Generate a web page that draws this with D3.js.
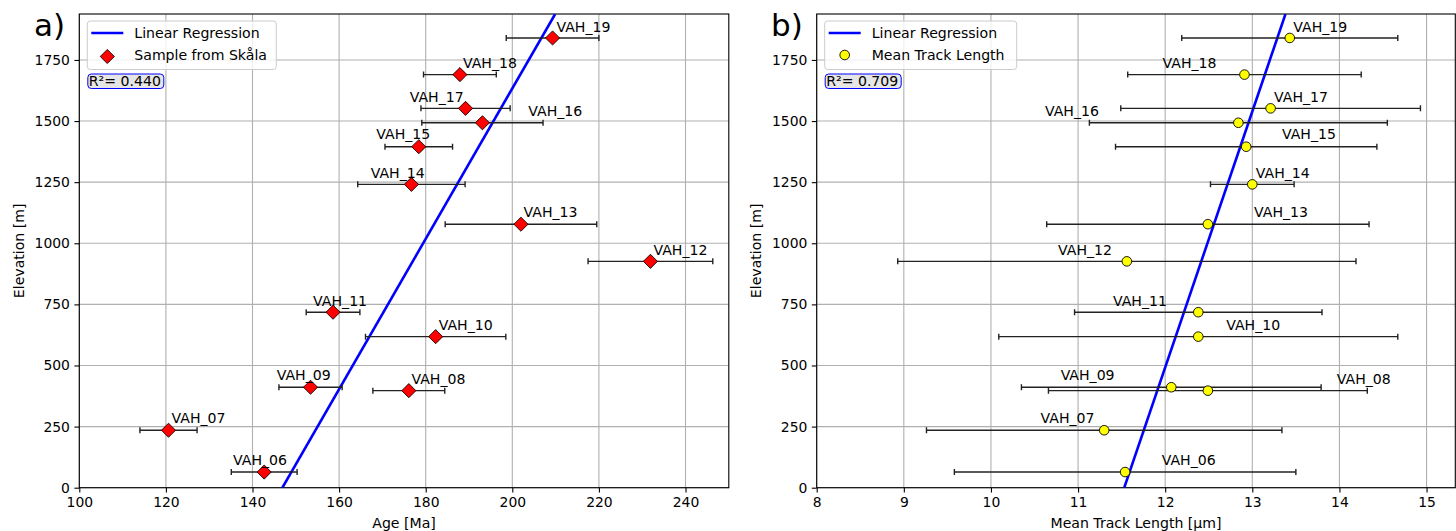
<!DOCTYPE html>
<html><head><meta charset="utf-8">
<script src="https://cdn.jsdelivr.net/npm/d3@7/dist/d3.min.js"></script>
<style>
body{margin:0;background:#fff;}
text{font-family:"DejaVu Sans",sans-serif;}
</style></head>
<body><svg id="chart" width="1456" height="531"></svg>
<script>
// ---- data ----
const samples   = ["VAH_06","VAH_07","VAH_08","VAH_09","VAH_10","VAH_11","VAH_12","VAH_13","VAH_14","VAH_15","VAH_16","VAH_17","VAH_18","VAH_19"];
const elevation = [64, 235, 397, 411, 618, 718, 926, 1078, 1241, 1395, 1493, 1552, 1690, 1840];
const age       = [142.7, 120.6, 176.1, 153.4, 182.3, 158.6, 231.9, 202.0, 176.7, 178.4, 193.1, 189.2, 187.9, 209.3];
const ageErr    = [7.6, 6.6, 8.3, 7.3, 16.2, 6.2, 14.4, 17.5, 12.4, 7.8, 14.0, 10.3, 8.4, 10.7];
const mtl       = [11.54, 11.30, 12.49, 12.07, 12.38, 12.38, 11.56, 12.49, 13.00, 12.93, 12.84, 13.21, 12.91, 13.43];
const mtlErr    = [1.96, 2.04, 1.83, 1.72, 2.29, 1.42, 2.63, 1.85, 0.48, 1.50, 1.71, 1.72, 1.34, 1.24];
// annotation anchors (data coordinates)
const labelAge  = [135.5, 121.3, 176.7, 145.6, 183.0, 154.0, 232.6, 202.6, 167.3, 168.6, 203.7, 176.3, 188.6, 210.2];
const labelMtl  = [11.96, 10.57, 13.97, 10.80, 12.70, 11.40, 10.77, 13.02, 13.04, 13.34, 10.62, 13.25, 11.97, 13.47];
const labelElev = [93, 263.5, 424, 441, 645, 745, 952, 1106, 1268, 1425, 1521, 1579, 1716, 1866];
// regression fits: x = intercept + slope * elevation
const fitAge = {intercept: 146.9, slope: 0.03251};
const fitMtl = {intercept: 11.53, slope: 0.000955};
const r2Age = "0.440", r2Mtl = "0.709";
const yTicks = [0, 250, 500, 750, 1000, 1250, 1500, 1750];
const ageTicks = [100, 120, 140, 160, 180, 200, 220, 240];
const mtlTicks = [8, 9, 10, 11, 12, 13, 14, 15];
const yDomain = [0, 1938];
const ageDomain = [100, 250];
const mtlDomain = [8, 15.33];

const svg = d3.select("#chart");
const FS = 13.9;
const FL = 14.1;

function panel(opts){
  const {left, right, top, bottom} = opts;
  const x = d3.scaleLinear().domain(opts.xDomain).range([left, right]);
  const y = d3.scaleLinear().domain(yDomain).range([bottom, top]);
  const g = svg.append("g");
  const clipId = "clip" + opts.id;
  svg.append("clipPath").attr("id", clipId).append("rect")
    .attr("x", left).attr("y", top).attr("width", right-left).attr("height", bottom-top);

  // grid
  g.append("g").selectAll("line").data(opts.xTicks).join("line")
    .attr("x1", d=>x(d)).attr("x2", d=>x(d)).attr("y1", top).attr("y2", bottom)
    .attr("stroke", "#b0b0b0").attr("stroke-width", 1.1);
  g.append("g").selectAll("line").data(yTicks).join("line")
    .attr("y1", d=>y(d)).attr("y2", d=>y(d)).attr("x1", left).attr("x2", right)
    .attr("stroke", "#b0b0b0").attr("stroke-width", 1.1);

  // axes
  const xa = g.append("g").attr("transform", `translate(0,${bottom})`)
    .call(d3.axisBottom(x).tickValues(opts.xTicks).tickSize(4.9).tickPadding(4.5).tickFormat(d3.format("d")));
  const ya = g.append("g").attr("transform", `translate(${left},0)`)
    .call(d3.axisLeft(y).tickValues(yTicks).tickSize(4.9).tickPadding(4.5).tickFormat(d3.format("d")));
  [xa, ya].forEach(a=>{
    a.select(".domain").remove();
    a.selectAll("text").attr("font-size", FS).attr("fill", "#000").attr("font-family", "DejaVu Sans");
    a.selectAll("line").attr("stroke", "#000").attr("stroke-width", 1.1);
  });
  // spines
  g.append("rect").attr("x", left).attr("y", top).attr("width", right-left).attr("height", bottom-top)
    .attr("fill", "none").attr("stroke", "#000").attr("stroke-width", 1.1);

  // axis labels
  g.append("text").attr("x", (left+right)/2).attr("y", 528).attr("text-anchor", "middle")
    .attr("font-size", FL).text(opts.xLabel);
  g.append("text").attr("transform", `translate(${opts.yLabelX},${(top+bottom)/2}) rotate(-90)`)
    .attr("text-anchor", "middle").attr("dy", "0.35em").attr("font-size", FL).text("Elevation [m]");

  const plot = g.append("g").attr("clip-path", `url(#${clipId})`);
  // regression line
  plot.append("line")
    .attr("x1", x(opts.fit.intercept + opts.fit.slope*yDomain[0])).attr("y1", y(yDomain[0]))
    .attr("x2", x(opts.fit.intercept + opts.fit.slope*yDomain[1])).attr("y2", y(yDomain[1]))
    .attr("stroke", "#0000ff").attr("stroke-width", 2.6);

  // error bars
  const idx = d3.range(samples.length);
  const eb = plot.append("g").attr("stroke", "#222").attr("stroke-width", 1.4);
  idx.forEach(i=>{
    const v = opts.vals[i], e = opts.errs[i], yy = y(elevation[i]);
    eb.append("line").attr("x1", x(v-e)).attr("x2", x(v+e)).attr("y1", yy).attr("y2", yy);
    [v-e, v+e].forEach(c=>eb.append("line").attr("x1", x(c)).attr("x2", x(c)).attr("y1", yy-3).attr("y2", yy+3));
  });
  // markers
  if(opts.marker === "diamond"){
    plot.append("g").selectAll("path").data(idx).join("path")
      .attr("d", d3.symbol(d3.symbolSquare, 100))
      .attr("transform", i=>`translate(${x(opts.vals[i])},${y(elevation[i])}) rotate(45)`)
      .attr("fill", "#ff0000").attr("stroke", "#000").attr("stroke-width", 0.8);
  } else {
    plot.append("g").selectAll("circle").data(idx).join("circle")
      .attr("cx", i=>x(opts.vals[i])).attr("cy", i=>y(elevation[i])).attr("r", 4.8)
      .attr("fill", "#ffff00").attr("stroke", "#000").attr("stroke-width", 0.9);
  }
  // labels
  g.append("g").selectAll("text").data(idx).join("text")
    .attr("x", i=>x(opts.labelX[i])).attr("y", i=>y(labelElev[i]))
    .attr("font-size", FL).attr("fill", "#000").text(i=>samples[i]);

  // legend
  const lg = g.append("g");
  lg.append("rect").attr("x", left+8).attr("y", 21).attr("width", opts.legendW).attr("height", 48.5)
    .attr("rx", 3).attr("fill", "#fff").attr("fill-opacity", 0.8).attr("stroke", "#cccccc").attr("stroke-width", 1);
  lg.append("line").attr("x1", left+12).attr("x2", left+44).attr("y1", 33).attr("y2", 33)
    .attr("stroke", "#0000ff").attr("stroke-width", 2.6);
  lg.append("text").attr("x", left+55).attr("y", 33).attr("dy", "0.35em").attr("font-size", FL).text("Linear Regression");
  if(opts.marker === "diamond"){
    lg.append("path").attr("d", d3.symbol(d3.symbolSquare, 100))
      .attr("transform", `translate(${left+28},56.5) rotate(45)`)
      .attr("fill", "#ff0000").attr("stroke", "#000").attr("stroke-width", 0.8);
  } else {
    lg.append("circle").attr("cx", left+28).attr("cy", 55).attr("r", 4.8)
      .attr("fill", "#ffff00").attr("stroke", "#000").attr("stroke-width", 0.9);
  }
  lg.append("text").attr("x", left+55).attr("y", 55.5).attr("dy", "0.35em").attr("font-size", FL).text(opts.legendLabel);

  // R² box
  const rb = g.append("g");
  rb.append("rect").attr("x", left+8.5).attr("y", 74).attr("width", 76).attr("height", 14.5)
    .attr("rx", 3.5).attr("fill", "#e6e6e6").attr("stroke", "#0000ff").attr("stroke-width", 1);
  rb.append("text").attr("x", left+9.5).attr("y", 81.3).attr("dy", "0.35em").attr("font-size", FL).text("R²= " + opts.r2);

  // panel letter
  svg.append("text").attr("x", opts.letterX).attr("y", 36).attr("font-family", "Liberation Sans, Arial, sans-serif")
    .attr("font-size", 31).attr("fill", "#000").text(opts.letter);
}

panel({id:"a", left:79.3, right:728.8, top:14, bottom:487.7, xDomain:ageDomain, xTicks:ageTicks,
  xLabel:"Age [Ma]", yLabelX:19, fit:fitAge, vals:age, errs:ageErr, labelX:labelAge, marker:"diamond",
  legendW:189, legendLabel:"Sample from Skåla", r2:r2Age, letter:"a)", letterX:34});
panel({id:"b", left:816.7, right:1455.3, top:14, bottom:487.7, xDomain:mtlDomain, xTicks:mtlTicks,
  xLabel:"Mean Track Length [µm]", yLabelX:756, fit:fitMtl, vals:mtl, errs:mtlErr, labelX:labelMtl, marker:"circle",
  legendW:192, legendLabel:"Mean Track Length", r2:r2Mtl, letter:"b)", letterX:771});
</script></body></html>
